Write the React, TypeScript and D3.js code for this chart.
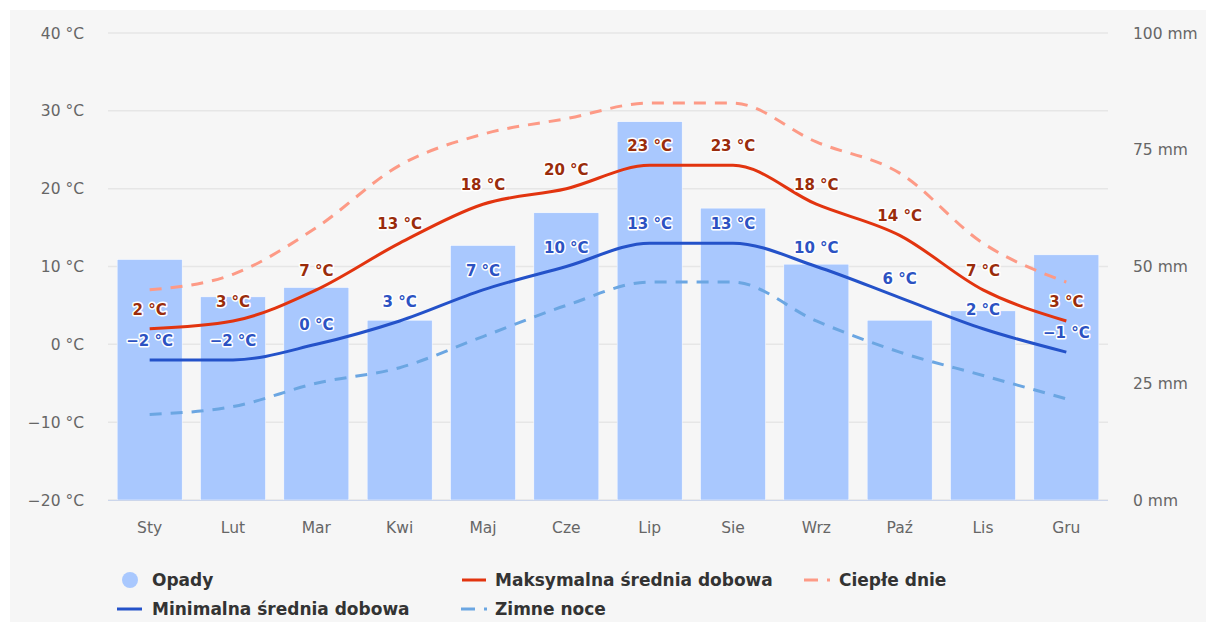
import React from 'react';
import * as d3 from 'd3';

const months = ['Sty', 'Lut', 'Mar', 'Kwi', 'Maj', 'Cze', 'Lip', 'Sie', 'Wrz', 'Paź', 'Lis', 'Gru'];
const opady = [51.5, 43.5, 45.5, 38.5, 54.5, 61.5, 81, 62.5, 50.5, 38.5, 40.5, 52.5];
const maxTemp = [2, 3, 7, 13, 18, 20, 23, 23, 18, 14, 7, 3];
const minTemp = [-2, -2, 0, 3, 7, 10, 13, 13, 10, 6, 2, -1];
const warmDays = [7, 9, 15, 23, 27, 29, 31, 31, 26, 22, 13, 8];
const coldNights = [-9, -8, -5, -3, 1, 5, 8, 8, 3, -1, -4, -7];
const tempTicks = [40, 30, 20, 10, 0, -10, -20];
const mmTicks = [100, 75, 50, 25, 0];

const W = 1206;
const H = 622;
const plot = { left: 108, right: 1108, top: 33, bottom: 500 };
const font = '"DejaVu Sans", Verdana, sans-serif';

const fmt = (v: number) => (v < 0 ? '\u2212' + Math.abs(v) : String(v));

const App = () => {
  const x = d3.scaleBand<string>()
    .domain(months)
    .range([plot.left, plot.right])
    .paddingInner(0.22)
    .paddingOuter(0.11);
  const yT = d3.scaleLinear().domain([-20, 40]).range([plot.bottom, plot.top]);
  const yP = d3.scaleLinear().domain([0, 100]).range([plot.bottom, plot.top]);
  const cx = (i: number) => (x(months[i]) as number) + x.bandwidth() / 2;

  const line = d3.line<number>()
    .x((_, i) => cx(i))
    .y(d => yT(d))
    .curve(d3.curveMonotoneX);

  const label = (vals: number[], color: string, key: string) =>
    vals.map((v, i) => (
      <text
        key={key + i}
        x={cx(i)}
        y={yT(v) - 14}
        textAnchor="middle"
        fontFamily={font}
        fontSize={15}
        fontWeight="bold"
        fill={color}
        stroke="#ffffff"
        strokeWidth={3}
        strokeLinejoin="round"
        paintOrder="stroke"
      >
        {fmt(v)} °C
      </text>
    ));

  return (
    <svg width={W} height={H} style={{ position: 'absolute', left: 0, top: 0 }}>
      <rect x={0} y={0} width={W} height={H} fill="#ffffff" />
      <rect x={10} y={10} width={W - 10} height={H - 10} fill="#f6f6f6" />

      {/* grid */}
      {tempTicks.map(t => (
        <line key={'g' + t} x1={plot.left} x2={plot.right} y1={yT(t)} y2={yT(t)} stroke="#e6e6e6" strokeWidth={1.5} />
      ))}

      {/* left axis */}
      {tempTicks.map(t => (
        <text key={'lt' + t} x={84} y={yT(t) + 5.5} textAnchor="end" fontFamily={font} fontSize={15.5} fill="#666666">
          {fmt(t)} °C
        </text>
      ))}
      {/* right axis */}
      {mmTicks.map(t => (
        <text key={'rt' + t} x={1133} y={yP(t) + 5.5} textAnchor="start" fontFamily={font} fontSize={15.5} fill="#666666">
          {t} mm
        </text>
      ))}

      {/* bars */}
      {opady.map((v, i) => (
        <rect
          key={'b' + i}
          x={x(months[i])}
          y={yP(v)}
          width={x.bandwidth()}
          height={plot.bottom - yP(v)}
          fill="#a9c8fe"
          stroke="#ffffff"
          strokeWidth={0.5}
        />
      ))}
      <line x1={plot.left} x2={plot.right} y1={plot.bottom + 0.5} y2={plot.bottom + 0.5} stroke="#ccd6eb" strokeWidth={1} />

      {/* x labels */}
      {months.map((m, i) => (
        <text key={'x' + i} x={cx(i)} y={533} textAnchor="middle" fontFamily={font} fontSize={15.5} fill="#666666">
          {m}
        </text>
      ))}

      {/* lines */}
      <path d={line(warmDays) || ''} fill="none" stroke="#fd9a86" strokeWidth={3} strokeDasharray="12,9" />
      <path d={line(coldNights) || ''} fill="none" stroke="#6ba6e2" strokeWidth={3} strokeDasharray="12,9" />
      <path d={line(maxTemp) || ''} fill="none" stroke="#e2340f" strokeWidth={3} />
      <path d={line(minTemp) || ''} fill="none" stroke="#2452c9" strokeWidth={3} />

      {label(maxTemp, '#9a2c0b', 'mx')}
      {label(minTemp, '#2c52c2', 'mn')}

      {/* legend */}
      <g fontFamily={font} fontSize={17} fontWeight="bold" fill="#333333">
        <circle cx={130} cy={580} r={8} fill="#a9c8fe" />
        <text x={152} y={586}>Opady</text>
        <line x1={462} x2={486} y1={580} y2={580} stroke="#e2340f" strokeWidth={3} />
        <text x={495} y={586}>Maksymalna średnia dobowa</text>
        <line x1={804} x2={830} y1={580} y2={580} stroke="#fd9a86" strokeWidth={3} strokeDasharray="14,9" />
        <text x={839} y={586}>Ciepłe dnie</text>
        <line x1={117} x2={142} y1={609} y2={609} stroke="#2452c9" strokeWidth={3} />
        <text x={152} y={615}>Minimalna średnia dobowa</text>
        <line x1={461} x2={487} y1={609} y2={609} stroke="#6ba6e2" strokeWidth={3} strokeDasharray="14,9" />
        <text x={495} y={615}>Zimne noce</text>
      </g>
    </svg>
  );
};

export default App;
